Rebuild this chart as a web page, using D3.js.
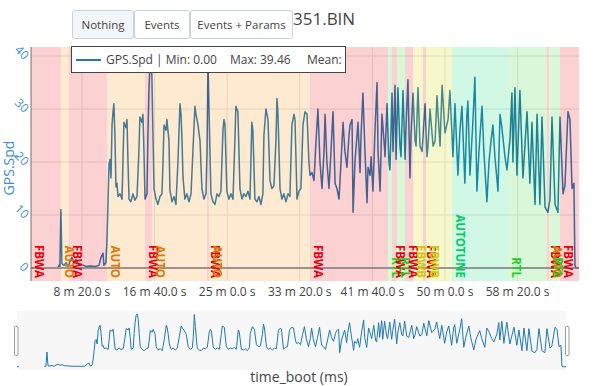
<!DOCTYPE html>
<html>
<head>
<meta charset="utf-8">
<script src="https://cdn.jsdelivr.net/npm/d3@7"></script>
<style>
  body { margin: 0; background: #fff; }
  svg { font-family: "Open Sans", verdana, arial, sans-serif; }
</style>
</head>
<body>
<div id="chart"></div>
<script>
// GPS speed samples, time_boot in seconds (null = gap in log)
const timeSec = [149, 162, 250, 335, 342, 348, 355, 362, 376, 390, 404, 417, 431, 445, 459, 472, 500, 528, 555, 590, 617, 631, 645, 651, 665,
  672, 679, 686, 693, 700, 707, 714, 720, 727, 734, 741, 748, 762, 776, 782, 789, 803, 810, 817, 824, 837, 851, 865, 879, 892, 899, 913, 920, 927, 934,
  948, 954, 961, 968, 975, 982, 989, 996, 1010, 1023, 1037, 1051, 1058, 1065, 1079, 1085, 1099, 1106, 1120, 1134, 1147, 1161, 1175, 1182, 1189, 1196,
  1209, 1223, 1237, 1251, 1264, 1278, 1285, 1299, 1313, 1326, 1340, 1354, 1361, 1368, 1375, 1388, 1402, 1416, 1430, 1443, 1457, 1471, 1478, 1485,
  1498, 1512, 1526, 1540, 1553, 1560, 1574, 1588, 1602, 1615, 1629, 1643, 1657, 1670, 1677, 1691, 1705, 1719, 1732, 1746, 1753, 1767, 1781, 1795,
  1808, 1822, 1836, 1843, 1850, 1864, 1877, 1891, 1905, 1919, 1932, 1946, 1960, 1967, 1981, 1994, 2008, 2022, 2036, 2050, 2063, 2070,
  2084, 2098, 2112, 2125, 2139, 2153, 2167, 2174, 2187, 2201, 2215, 2229, 2243, 2256, 2270, 2284, 2298, 2311, 2325, 2339, 2346, 2360, 2367, 2380,
  2401, 2415, 2422, 2435, 2449, 2463, 2470, 2484, 2491, 2504, 2518, 2532, 2539, 2553, 2566, 2580, 2587, 2601, 2614, 2621, 2635, 2642, 2656, 2663,
  2676, 2690, 2697, 2711, 2725, 2732, 2745, 2759, 2766, 2780, 2794, 2801, 2814, 2828, 2842, 2863, 2876, 2883, 2897, 2918, 2932, 2945, 2966, 2980,
  3000, 3021, 3034, 3055, 3069, 3089, 3103, 3117, 3137, 3151, 3158, 3172, 3193, 3206, 3220, 3234, 3255, 3268, 3289, 3303, 3317, 3330, 3344, 3365,
  3379, 3392, 3413, 3427, 3448, 3461, 3468, 3482, 3496, 3516, 3537, 3565, 3585, 3599, 3620, 3634, 3654, 3668, 3689, 3709, 3723, 3737, 3758, 3778,
  3792, 3813, 3826, 3847, 3861, 3875, 3888, 3895, 3902, 3923];
const gpsSpd = [0, 0, null, 0.2, 0.5, 0.3, 11.0, 0.8, 0.5, 1.0, 0.3, 1.2, 2.0, 1.0, 1.6, 0.8, 0.6, 0.3, 0.4, 0.3, 0.5, 2.0, 2.8, 0.5, 1.0,
  5.0, 12.0, 19.5, 20.5, 17.0, 27.0, 29.5, 31.0, 25.0, 15.3, 16.0, 13.5, 14.0, 13.0, 20.0, 27.5, 26.5, 28.0, 20.0, 13.0, 12.5, 14.0, 12.8, 13.5, 22.0, 28.5, 27.5, 29.0, 22.0, 13.0,
  14.0, 25.0, 33.0, 38.5, 39.46, 36.0, 25.0, 15.0, 13.0, 12.0, 13.5, 14.0, 20.0, 27.0, 26.0, 28.0, 24.0, 14.7, 12.5, 13.5, 12.0, 20.0, 31.0, 29.0, 24.0, 17.0,
  13.0, 14.0, 12.5, 14.0, 22.0, 30.5, 29.0, 27.0, 24.0, 15.0, 13.0, 14.0, 22.0, 39.0, 30.0, 14.0, 12.5, 12.0, 14.0, 13.5, 14.5, 26.0, 28.0, 27.0,
  14.5, 13.0, 14.0, 13.0, 24.0, 30.5, 29.5, 15.0, 13.0, 14.0, 13.5, 14.5, 13.0, 27.5, 26.0, 13.0, 12.5, 13.5, 12.0, 14.0, 25.0, 30.0, 28.0, 16.5,
  15.0, 15.5, 24.0, 32.0, 29.0, 15.0, 13.0, 14.0, 12.5, 14.0, 13.5, 27.0, 29.0, 28.0, 13.0, 14.5, 15.0, 27.0, 29.5, 29.0, 20.0, 17.5,
  18.0, 16.5, 24.0, 30.0, 20.0, 15.0, 22.0, 29.0, 20.0, 15.0, 22.0, 29.5, 16.0, 15.0, 13.0, 20.0, 27.5, 22.0, 19.0, 25.0, 27.0, 28.0, 10.5, 20.0,
  27.5, 18.0, 25.0, 33.0, 22.0, 12.3, 19.0, 17.5, 21.0, 14.5, 26.0, 35.0, 22.0, 14.5, 29.0, 24.0, 21.0, 31.0, 20.0, 18.5, 33.0, 22.0, 34.5, 20.5,
  34.0, 23.0, 21.0, 33.5, 20.5, 27.0, 35.5, 17.0, 25.0, 33.0, 24.0, 23.0, 34.0, 23.0, 22.0, 31.0, 21.0, 23.0, 30.0, 23.0, 24.0, 32.5, 23.0, 34.5,
  25.5, 28.0, 33.5, 21.0, 31.0, 17.5, 26.0, 30.5, 16.0, 29.0, 31.5, 17.5, 28.0, 36.0, 14.5, 22.0, 30.5, 22.0, 12.5, 20.0, 24.0, 27.0, 21.0, 14.5,
  29.0, 26.5, 21.0, 18.5, 24.5, 33.0, 20.0, 34.0, 17.5, 33.5, 17.0, 29.5, 16.0, 27.5, 12.0, 29.0, 12.0, 28.5, 11.5, 10.5, 13.0, 28.5, 12.0, 10.5,
  28.5, 14.0, 15.5, 29.5, 28.0, 15.0, 16.0, 0.5, 0.0, 0.0];

// flight mode changes (seconds)
const modeStart = [149, 355, 410, 672, 934, 982, 1361, 1375, 2070, 2607, 2635, 2669, 2725, 2780, 2848, 2869, 3048, 3434, 3702, 3716, 3723, 3792];
const modeName = ['FBWA', 'AUTO', 'FBWA', 'AUTO', 'FBWA', 'AUTO', 'FBWA', 'AUTO', 'FBWA', 'RTL', 'FBWA', 'RTL', 'FBWA', 'FBWB', 'FBWA', 'FBWB',
  'AUTOTUNE', 'RTL', 'FBWA', 'AUTO', 'RTL', 'FBWA'];

const xTickMs = [500000, 1000000, 1500000, 2000000, 2500000, 3000000, 3500000];
const yTicks = [0, 10, 20, 30, 40];

const modeColors = {
  FBWA: { fill: 'rgba(235,0,0,0.18)', text: '#e8000b' },
  AUTO: { fill: 'rgba(250,140,0,0.18)', text: '#e07800' },
  RTL: { fill: 'rgba(0,200,0,0.15)', text: '#1ecf1e' },
  FBWB: { fill: 'rgba(215,215,0,0.2)', text: '#cccc00' },
  AUTOTUNE: { fill: 'rgba(0,215,110,0.18)', text: '#00cc66' }
};

const cfg = {
  width: 600, height: 386,
  plot: { left: 31, right: 579, top: 47, bottom: 281 },
  slider: { left: 17, right: 566, top: 311, bottom: 370 },
  lineColor: '#1f77b4'
};

const data = timeSec.map((t, i) => ({ t: t * 1000, v: gpsSpd[i] }));
const endMs = d3.max(data, d => d.t);
const modes = modeStart.map((s, i) => ({
  name: modeName[i],
  start: s * 1000,
  end: i < modeStart.length - 1 ? modeStart[i + 1] * 1000 : endMs
}));

const svg = d3.select('#chart').append('svg')
  .attr('width', cfg.width)
  .attr('height', cfg.height);

const x = d3.scaleLinear().domain(d3.extent(data, d => d.t)).range([cfg.plot.left, cfg.plot.right]);
const y = d3.scaleLinear().domain([-2.45, 41.7]).range([cfg.plot.bottom, cfg.plot.top]);

svg.append('clipPath').attr('id', 'clip').append('rect')
  .attr('x', cfg.plot.left).attr('y', cfg.plot.top)
  .attr('width', cfg.plot.right - cfg.plot.left).attr('height', cfg.plot.bottom - cfg.plot.top);

// grid
svg.append('g').selectAll('line').data(yTicks.filter(d => d !== 0)).join('line')
  .attr('x1', cfg.plot.left).attr('x2', cfg.plot.right)
  .attr('y1', d => y(d)).attr('y2', d => y(d))
  .attr('stroke', '#e4e4e4').attr('stroke-width', 1);
svg.append('g').selectAll('line').data(xTickMs).join('line')
  .attr('x1', d => x(d)).attr('x2', d => x(d))
  .attr('y1', cfg.plot.top).attr('y2', cfg.plot.bottom)
  .attr('stroke', '#e4e4e4').attr('stroke-width', 1);

// y axis line
svg.append('line')
  .attr('x1', cfg.plot.left).attr('x2', cfg.plot.left)
  .attr('y1', cfg.plot.top).attr('y2', cfg.plot.bottom)
  .attr('stroke', '#777');

// data line
const line = d3.line().defined(d => d.v != null).x(d => x(d.t)).y(d => y(d.v));
svg.append('path').datum(data)
  .attr('clip-path', 'url(#clip)')
  .attr('fill', 'none').attr('stroke', cfg.lineColor).attr('stroke-width', 1.5)
  .attr('stroke-linejoin', 'round')
  .attr('d', line);

// mode bands (on top, translucent)
svg.append('g').selectAll('rect').data(modes).join('rect')
  .attr('x', d => x(d.start)).attr('width', d => x(d.end) - x(d.start))
  .attr('y', cfg.plot.top).attr('height', cfg.plot.bottom - cfg.plot.top)
  .attr('fill', d => modeColors[d.name].fill);

// zero line
svg.append('line')
  .attr('x1', cfg.plot.left).attr('x2', cfg.plot.right)
  .attr('y1', y(0)).attr('y2', y(0))
  .attr('stroke', '#777').attr('stroke-width', 1.5);

// mode labels
svg.append('g').selectAll('text').data(modes).join('text')
  .attr('transform', d => `translate(${x(d.start) + 4},${cfg.plot.bottom - 3}) rotate(90)`)
  .attr('text-anchor', 'end')
  .attr('font-size', 11.5).attr('font-weight', 'bold')
  .attr('fill', d => modeColors[d.name].text)
  .text(d => d.name);

// x tick labels
const fmtTime = ms => `${Math.floor(ms / 60000)} m ${((ms % 60000) / 1000).toFixed(1)} s`;
svg.append('g').selectAll('text').data(xTickMs).join('text')
  .attr('x', d => x(d)).attr('y', 296)
  .attr('text-anchor', 'middle')
  .attr('font-size', 12).attr('fill', '#444')
  .text(fmtTime);

// y tick labels (angled)
svg.append('g').selectAll('text').data(yTicks).join('text')
  .attr('transform', d => `translate(26,${y(d) + 2}) rotate(45)`)
  .attr('text-anchor', 'end').attr('dominant-baseline', 'middle')
  .attr('font-size', 12).attr('fill', '#3d8fcf')
  .text(d => d);

svg.append('text')
  .attr('transform', `translate(14,${(cfg.plot.top + cfg.plot.bottom) / 2 + 4}) rotate(-90)`)
  .attr('text-anchor', 'middle')
  .attr('font-size', 14).attr('fill', '#3d8fcf')
  .text('GPS.Spd');

// title
svg.append('text').attr('x', 293).attr('y', 25)
  .attr('font-size', 17).attr('fill', '#444')
  .text('351.BIN');

// buttons
const buttons = [
  { label: 'Nothing', x: 72, w: 61, active: true },
  { label: 'Events', x: 134, w: 55, active: false },
  { label: 'Events + Params', x: 190, w: 102, active: false }
];
const btn = svg.append('g').selectAll('g').data(buttons).join('g');
btn.append('rect')
  .attr('x', d => d.x + 0.5).attr('y', 10.5).attr('width', d => d.w).attr('height', 28).attr('rx', 2)
  .attr('fill', d => d.active ? '#f2f5fa' : '#fff').attr('stroke', '#c8d2de');
btn.append('text')
  .attr('x', d => d.x + d.w / 2 + 0.5).attr('y', 28.5)
  .attr('text-anchor', 'middle').attr('font-size', 11.5).attr('fill', '#444')
  .text(d => d.label);

// legend
const lg = svg.append('g');
lg.append('rect').attr('x', 71.5).attr('y', 46.5).attr('width', 274).attr('height', 26)
  .attr('fill', '#fff').attr('stroke', '#444');
lg.append('line').attr('x1', 76).attr('x2', 101).attr('y1', 60).attr('y2', 60)
  .attr('stroke', cfg.lineColor).attr('stroke-width', 2);
const vMin = d3.min(gpsSpd.filter(v => v != null));
const vMax = d3.max(gpsSpd);
[[106, `GPS.Spd | Min: ${vMin.toFixed(2)}`], [230, `Max: ${vMax.toFixed(2)}`], [307, 'Mean:']].forEach(([lx, s]) => {
  lg.append('text').attr('x', lx).attr('y', 64).attr('font-size', 12).attr('fill', '#444').text(s);
});

// range slider
const xs = d3.scaleLinear().domain(x.domain()).range([cfg.slider.left, cfg.slider.right]);
const ys = d3.scaleLinear().domain(y.domain()).range([cfg.slider.bottom, cfg.slider.top]);
svg.append('rect')
  .attr('x', cfg.slider.left).attr('y', cfg.slider.top)
  .attr('width', cfg.slider.right - cfg.slider.left).attr('height', cfg.slider.bottom - cfg.slider.top)
  .attr('fill', '#f7f7f7');
svg.append('path').datum(data)
  .attr('fill', 'none').attr('stroke', cfg.lineColor).attr('stroke-width', 1)
  .attr('d', d3.line().defined(d => d.v != null).x(d => xs(d.t)).y(d => ys(d.v)));
[cfg.slider.left - 2.5, cfg.slider.right - 0.5].forEach(hx => {
  svg.append('rect').attr('x', hx).attr('y', 326.5).attr('width', 3.5).attr('height', 29).attr('rx', 1)
    .attr('fill', '#fff').attr('stroke', '#999');
});

svg.append('text').attr('x', 299).attr('y', 382)
  .attr('text-anchor', 'middle').attr('font-size', 14).attr('fill', '#444')
  .text('time_boot (ms)');
</script>
</body>
</html>
